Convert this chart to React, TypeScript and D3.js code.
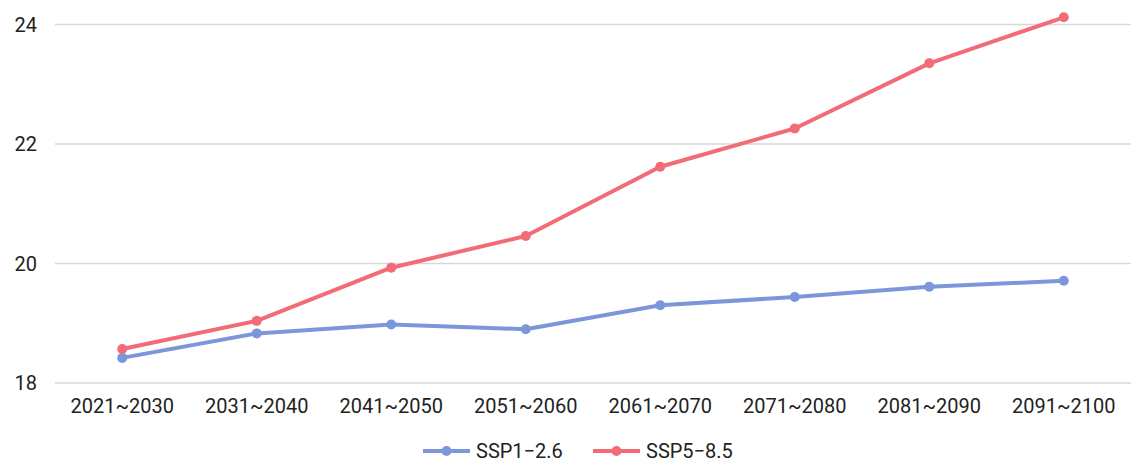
import React, { useEffect, useRef } from 'react';
import * as d3 from 'd3';

const categories = ['2021~2030', '2031~2040', '2041~2050', '2051~2060', '2061~2070', '2071~2080', '2081~2090', '2091~2100'];
const ssp126 = [18.42, 18.83, 18.98, 18.9, 19.3, 19.44, 19.61, 19.71];
const ssp585 = [18.57, 19.04, 19.93, 20.46, 21.62, 22.26, 23.35, 24.12];
const yTicks = [18, 20, 22, 24];

const series = [
  { name: 'SSP1−2.6', values: ssp126, color: '#7b97d9' },
  { name: 'SSP5−8.5', values: ssp585, color: '#f26b76' },
];

const W = 1133;
const H = 464;

const App: React.FC = () => {
  const svgRef = useRef<SVGSVGElement>(null);

  useEffect(() => {
    if (!svgRef.current) return;
    const svg = d3.select(svgRef.current);
    svg.selectAll('*').remove();

    const font = 'Roboto, "Noto Sans", sans-serif';

    const x = d3.scalePoint<string>().domain(categories).range([55, 1131]).padding(0.5);
    const y = d3.scaleLinear().domain([18, 24]).range([383, 24.5]);

    // grid lines
    svg.append('g')
      .selectAll('line')
      .data(yTicks)
      .join('line')
      .attr('x1', 55)
      .attr('x2', 1131)
      .attr('y1', d => y(d))
      .attr('y2', d => y(d))
      .attr('stroke', '#d9d9d9')
      .attr('stroke-width', 1.3);

    // y labels
    svg.append('g')
      .selectAll('text')
      .data(yTicks)
      .join('text')
      .attr('x', 37)
      .attr('y', d => y(d))
      .attr('dy', '0.35em')
      .attr('text-anchor', 'end')
      .style('font-family', font)
      .style('font-size', '20px')
      .attr('fill', '#222')
      .text(d => d);

    // x labels
    svg.append('g')
      .selectAll('text')
      .data(categories)
      .join('text')
      .attr('x', d => x(d)!)
      .attr('y', 413)
      .attr('text-anchor', 'middle')
      .style('font-family', font)
      .style('font-size', '20px')
      .attr('fill', '#222')
      .text(d => d);

    const line = d3.line<number>()
      .x((_, i) => x(categories[i])!)
      .y(d => y(d));

    series.forEach(s => {
      const g = svg.append('g');
      g.append('path')
        .datum(s.values)
        .attr('fill', 'none')
        .attr('stroke', s.color)
        .attr('stroke-width', 4)
        .attr('stroke-linejoin', 'round')
        .attr('d', line);
      g.selectAll('circle')
        .data(s.values)
        .join('circle')
        .attr('cx', (_, i) => x(categories[i])!)
        .attr('cy', d => y(d))
        .attr('r', 5)
        .attr('fill', s.color);
    });

    // legend
    const legendX = [423, 593];
    const legend = svg.append('g')
      .selectAll('g')
      .data(series)
      .join('g')
      .attr('transform', (_, i) => `translate(${legendX[i]},451)`);
    legend.append('line')
      .attr('x1', 0)
      .attr('x2', 47)
      .attr('stroke', d => d.color)
      .attr('stroke-width', 4);
    legend.append('circle')
      .attr('cx', 23.5)
      .attr('r', 5)
      .attr('fill', d => d.color);
    legend.append('text')
      .attr('x', 53)
      .attr('dy', '0.35em')
      .style('font-family', font)
      .style('font-size', '20px')
      .attr('fill', '#222')
      .text(d => d.name);
  }, []);

  return (
    <svg
      ref={svgRef}
      width={W}
      height={H}
      style={{ position: 'absolute', left: 0, top: 0, background: '#fff' }}
    />
  );
};

export default App;
